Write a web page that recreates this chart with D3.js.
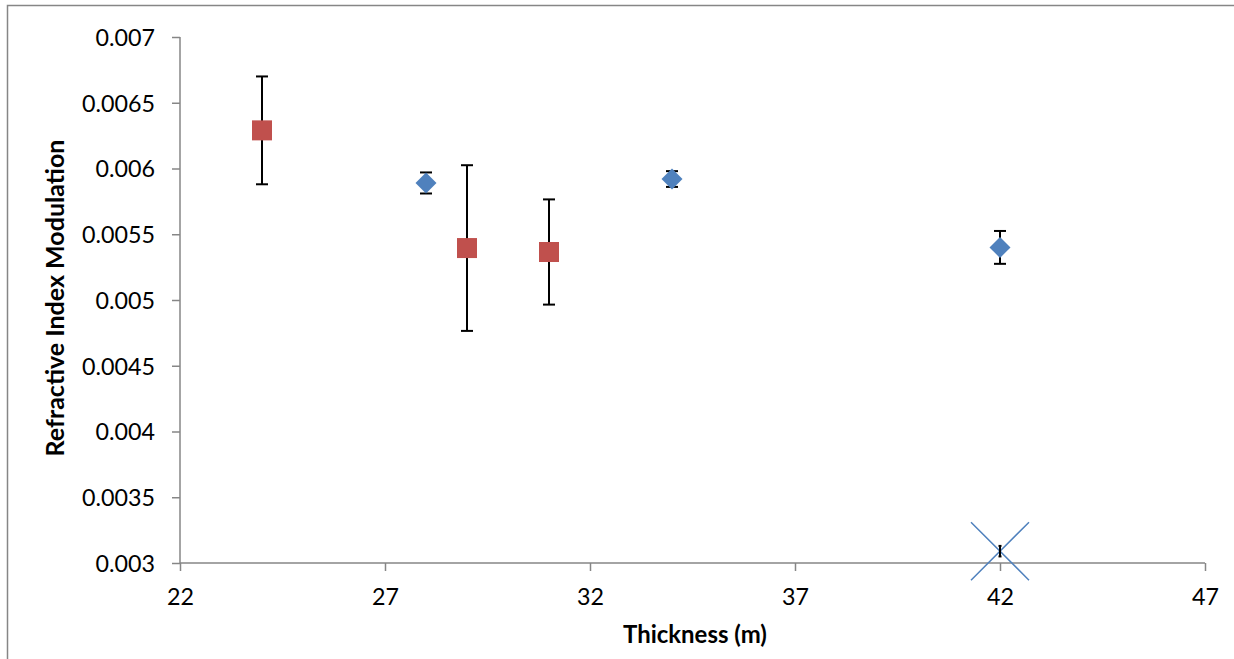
<!DOCTYPE html>
<html>
<head>
<meta charset="utf-8">
<script src="https://cdn.jsdelivr.net/npm/d3@7"></script>
<style>
html,body{margin:0;padding:0;background:#fff;}
svg{display:block;}
</style>
</head>
<body>
<svg id="chart" width="1234" height="659"></svg>
<script>
// ---- data ----
const xTicks = [22, 27, 32, 37, 42, 47];
const yTicks = [0.003, 0.0035, 0.004, 0.0045, 0.005, 0.0055, 0.006, 0.0065, 0.007];
const yTickLabels = ["0.003", "0.0035", "0.004", "0.0045", "0.005", "0.0055", "0.006", "0.0065", "0.007"];

const blueX = [28, 34, 42];
const blueY = [0.00589, 0.00592, 0.0054];
const blueErr = [0.00008, 0.00006, 0.000125];

const redX = [24, 29, 31];
const redY = [0.00629, 0.005395, 0.005365];
const redErr = [0.00041, 0.00063, 0.0004];

const crossX = [42];
const crossY = [0.00309];
const crossErr = [0.00004];

const xTitle = "Thickness (m)";
const yTitle = "Refractive Index Modulation";

// ---- layout ----
const svg = d3.select("#chart");
const pLeft = 180, pRight = 1205, pTop = 37, pBottom = 563;
const x = d3.scaleLinear().domain([22, 47]).range([pLeft, pRight]);
const y = d3.scaleLinear().domain([0.003, 0.007]).range([pBottom, pTop]);
const axisColor = "#868686";
const font = "Lato, 'Open Sans', sans-serif";

// helper: fit a text's font size so that its width matches a target width
function fitSize(sel, base, target) {
  const w = sel.node().getComputedTextLength();
  return w > 0 ? base * target / w : base;
}

// chart border
svg.append("rect").attr("x", 7.5).attr("y", 5.5).attr("width", 1300).attr("height", 700)
  .attr("fill", "none").attr("stroke", axisColor).attr("stroke-width", 1.5);

// tick label font size fitted so "0.0055" is ~73px wide
const probe = svg.append("text").style("font-family", font).style("font-size", "20px").text("0.0055");
const tickSize = fitSize(probe, 20, 73);
probe.remove();

// y axis
const yAxis = svg.append("g").attr("transform", `translate(${pLeft},0)`)
  .call(d3.axisLeft(y).tickValues(yTicks).tickSize(8).tickFormat((d, i) => yTickLabels[i]));
yAxis.select(".domain").attr("stroke", axisColor).attr("stroke-width", 1.5).attr("d", `M0,${pTop}V${pBottom}`);
yAxis.selectAll(".tick line").attr("stroke", axisColor).attr("stroke-width", 1.5);
yAxis.selectAll(".tick text").attr("x", -25).attr("dy", "0.36em")
  .attr("fill", "#000").style("font-family", font).style("font-size", tickSize + "px");

// x axis
const xAxis = svg.append("g").attr("transform", `translate(0,${pBottom})`)
  .call(d3.axisBottom(x).tickValues(xTicks).tickSize(8).tickFormat(d3.format("d")));
xAxis.select(".domain").attr("stroke", axisColor).attr("stroke-width", 1.5).attr("d", `M${pLeft},0H${pRight}`);
xAxis.selectAll(".tick line").attr("stroke", axisColor).attr("stroke-width", 1.5);
xAxis.selectAll(".tick text").attr("y", 0).attr("dy", "42px")
  .attr("fill", "#000").style("font-family", font).style("font-size", tickSize + "px");

// titles
const xt = svg.append("text").attr("x", 695).attr("y", 643).attr("text-anchor", "middle")
  .style("font-family", font).style("font-weight", "bold").style("font-size", "20px").text(xTitle);
xt.style("font-size", fitSize(xt, 20, 144) + "px");
const yt = svg.append("text").attr("transform", "translate(64,298) rotate(-90)").attr("text-anchor", "middle")
  .style("font-family", font).style("font-weight", "bold").style("font-size", "20px").text(yTitle);
yt.style("font-size", fitSize(yt, 20, 317) + "px");

// error bars
function errorBars(xs, ys, errs, cap) {
  const g = svg.append("g").attr("stroke", "#000").attr("stroke-width", 2);
  xs.forEach((xv, i) => {
    const cx = x(xv), y1 = y(ys[i] + errs[i]), y2 = y(ys[i] - errs[i]);
    g.append("line").attr("x1", cx).attr("x2", cx).attr("y1", y1).attr("y2", y2);
    g.append("line").attr("x1", cx - cap).attr("x2", cx + cap).attr("y1", y1).attr("y2", y1);
    g.append("line").attr("x1", cx - cap).attr("x2", cx + cap).attr("y1", y2).attr("y2", y2);
  });
}
errorBars(redX, redY, redErr, 6);
errorBars(blueX, blueY, blueErr, 6);

// red squares
svg.append("g").selectAll("rect").data(redX).join("rect")
  .attr("x", (d) => x(d) - 10).attr("y", (d, i) => y(redY[i]) - 10)
  .attr("width", 20).attr("height", 20).attr("fill", "#C0504D");

// blue diamonds
svg.append("g").selectAll("path").data(blueX).join("path")
  .attr("d", (d, i) => {
    const cx = x(d), cy = y(blueY[i]), r = 10.5;
    return `M${cx},${cy - r}L${cx + r},${cy}L${cx},${cy + r}L${cx - r},${cy}Z`;
  })
  .attr("fill", "#4F81BD");

// cross marker
svg.append("g").selectAll("path").data(crossX).join("path")
  .attr("d", (d, i) => {
    const cx = x(d), cy = y(crossY[i]), r = 29;
    return `M${cx - r},${cy - r}L${cx + r},${cy + r}M${cx - r},${cy + r}L${cx + r},${cy - r}`;
  })
  .attr("stroke", "#4F81BD").attr("stroke-width", 1.5).attr("fill", "none");
errorBars(crossX, crossY, crossErr, 1.5);
</script>
</body>
</html>
